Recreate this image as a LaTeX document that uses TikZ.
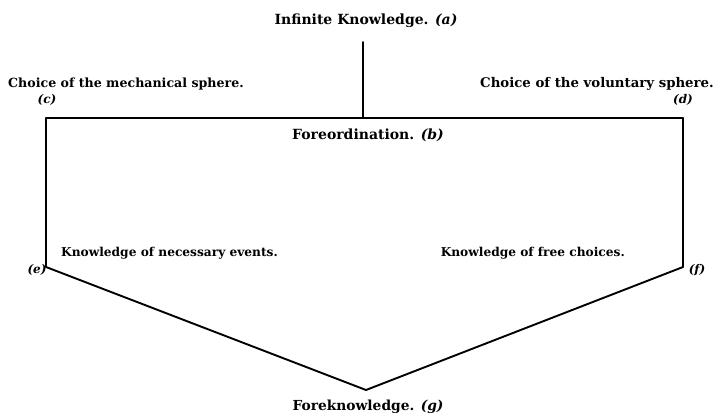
\documentclass[tikz,border=0pt]{standalone}
\usepackage{fontspec}
\setmainfont{DejaVu Serif}

\begin{document}
\begin{tikzpicture}
[x=1pt,y=-1pt,
  darkLine/.style={line width=1.9pt,line cap=round},%
  labelText/.style={inner sep=0pt,font=\bfseries},%
  letterText/.style={inner sep=0pt,font=\fontsize{12}{14}\selectfont\bfseries}]
\useasboundingbox (0,0) rectangle (720,417);
%% corners of the lines
\foreach \pointname/\x/\y in {top/363/118, cc/46/118, dd/683/118, ee/46/267, ff/683/267, gg/366/390}
{
  \coordinate (\pointname) at (\x,\y);
}
%% labels
\foreach \nodename/\x/\y/\where/\size/\txt in {
  a/366/21/center/14/{Infinite Knowledge. \textit{(a)}},
  b/368/135/center/14/{Foreordination. \textit{(b)}},
  mech/8/84/west/12.6/{Choice of the mechanical sphere.},
  vol/714/84/east/13.3/{Choice of the voluntary sphere.},
  nec/61/253/west/12.2/{Knowledge of necessary events.},
  free/625/253/east/12.2/{Knowledge of free choices.},
  g/368/407/center/13.8/{Foreknowledge. \textit{(g)}}}
{
  \node (\nodename) at (\x,\y) [labelText,anchor=\where] {\fontsize{\size}{16}\selectfont\txt};
}
\foreach \nodename/\x/\y in {c/47/100, d/683/100, e/37/270, f/697/270}
{
  \node (\nodename) at (\x,\y) [letterText] {\textit{(\nodename)}};
}
%% lines
\path
\foreach \startnode/\endnode in {cc/dd, cc/ee, dd/ff, ee/gg, ff/gg}
{
  (\startnode) edge[darkLine] (\endnode)
}
(top) edge[darkLine,shorten >=14pt] (a.south -| top);
\end{tikzpicture}
\end{document}
